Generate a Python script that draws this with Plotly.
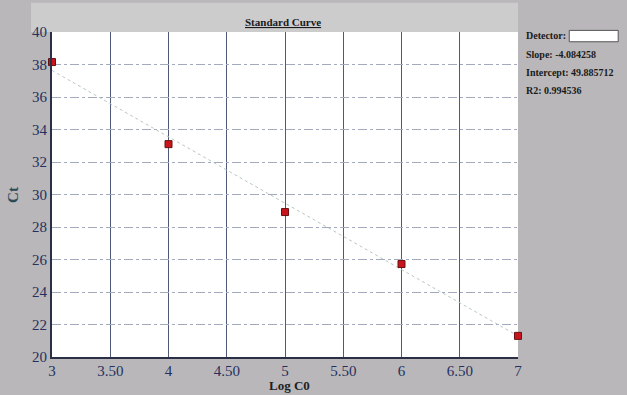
import plotly.graph_objects as go

# Data
log_c0 = [3, 4, 5, 6, 7]
ct_values = [38.15, 33.1, 28.92, 25.72, 21.3]
slope = -4.084258
intercept = 49.885712
r2 = 0.994536
x_tick_vals = [3, 3.5, 4, 4.5, 5, 5.5, 6, 6.5, 7]
x_tick_text = ["3", "3.50", "4", "4.50", "5", "5.50", "6", "6.50", "7"]
y_tick_vals = [20, 22, 24, 26, 28, 30, 32, 34, 36, 38, 40]

fit_x = [3, 7]
fit_y = [slope * v + intercept for v in fit_x]

fig = go.Figure()
fig.add_trace(go.Scatter(
    x=fit_x, y=fit_y, mode="lines",
    line=dict(color="#b5c9c2", width=1, dash="dot"),
    hoverinfo="skip", showlegend=False, cliponaxis=False))
fig.add_trace(go.Scatter(
    x=log_c0, y=ct_values, mode="markers",
    marker=dict(symbol="square", size=7, color="#c8141c",
                line=dict(color="#6a1010", width=1)),
    showlegend=False, cliponaxis=False))

font_serif = "Liberation Serif, Times New Roman, serif"
fig.update_layout(
    width=627, height=395,
    margin=dict(l=52, r=109, t=32, b=38),
    paper_bgcolor="#b9b7b9",
    plot_bgcolor="#ffffff",
    font=dict(family=font_serif, color="#27305a"),
    xaxis=dict(range=[3, 7], tickvals=x_tick_vals, ticktext=x_tick_text,
               showgrid=True, gridcolor="#4f5a78", gridwidth=1,
               showline=True, linecolor="#2a2f45", linewidth=2,
               ticks="", tickfont=dict(size=15, family=font_serif, color="#25305e"),
               zeroline=False, ticklabelstandoff=-1),
    yaxis=dict(range=[20, 40], tickvals=y_tick_vals,
               showgrid=True, gridcolor="#a3aabd", gridwidth=1, griddash="dashdot",
               showline=True, linecolor="#2a2f45", linewidth=2,
               ticks="", tickfont=dict(size=15, family=font_serif, color="#25305e"),
               zeroline=False, ticklabelstandoff=0),
    shapes=[
        dict(type="rect", xref="paper", yref="paper", x0=-0.045, x1=1.0, y0=1.0, y1=1.09,
             fillcolor="#cdcccd", line=dict(width=0), layer="below"),
        dict(type="rect", xref="paper", yref="paper", x0=1.11, x1=1.215, y0=0.97, y1=1.005,
             fillcolor="#ffffff", line=dict(color="#555555", width=1)),
    ],
    annotations=[
        dict(text="<b><u>Standard Curve</u></b>", xref="paper", yref="paper",
             x=0.495, y=1.0, yanchor="bottom", showarrow=False, yshift=2,
             font=dict(size=11, family=font_serif, color="#1a1a1a")),
        dict(text="<b>Ct</b>", xref="paper", yref="paper", x=-0.085, y=0.5,
             textangle=-90, showarrow=False, xanchor="center",
             font=dict(size=15, family=font_serif, color="#2a4a55")),
        dict(text="<b>Log C0</b>", xref="paper", yref="paper", x=0.51, y=-0.117,
             yanchor="bottom", showarrow=False,
             font=dict(size=13, family=font_serif, color="#1f1f1f")),
        dict(text="<b>Detector:</b>", xref="paper", yref="paper", x=1.012, y=0.99,
             xanchor="left", yanchor="middle", showarrow=False,
             font=dict(size=10, family=font_serif, color="#1a1a1a")),
        dict(text="<b>Slope: -%.6f</b>" % abs(slope), xref="paper", yref="paper",
             x=1.012, y=0.93, xanchor="left", yanchor="middle", showarrow=False,
             font=dict(size=10, family=font_serif, color="#1a1a1a")),
        dict(text="<b>Intercept: %.6f</b>" % intercept, xref="paper", yref="paper",
             x=1.012, y=0.875, xanchor="left", yanchor="middle", showarrow=False,
             font=dict(size=10, family=font_serif, color="#1a1a1a")),
        dict(text="<b>R2: %.6f</b>" % r2, xref="paper", yref="paper",
             x=1.012, y=0.82, xanchor="left", yanchor="middle", showarrow=False,
             font=dict(size=10, family=font_serif, color="#1a1a1a")),
    ],
)

fig.write_html(
    "out.html",
    config={"displayModeBar": False},
    post_script="document.body.style.margin='0';document.body.style.background='#b9b7b9';",
)
